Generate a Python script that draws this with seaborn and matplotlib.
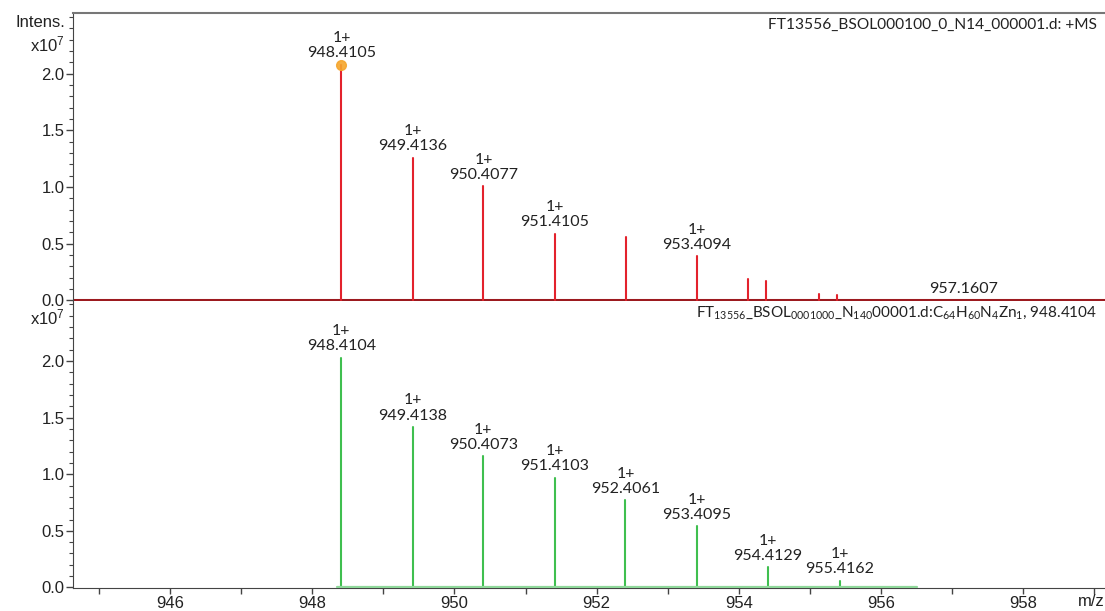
import numpy as np
import pandas as pd
import matplotlib
matplotlib.use("Agg")
import matplotlib.pyplot as plt
from matplotlib.ticker import MultipleLocator
import seaborn as sns

# ---------------- data ----------------
# measured spectrum (top, red), intensities in units of 1e7
meas_mz = [948.4105, 949.4136, 950.4077, 951.4105, 952.41, 953.4094,
           954.13, 954.38, 955.13, 955.38, 957.1607]
meas_int = [2.08, 1.26, 1.01, 0.59, 0.56, 0.39, 0.19, 0.17, 0.06, 0.05, 0.005]
meas_label = ["1+\n948.4105", "1+\n949.4136", "1+\n950.4077", "1+\n951.4105", "",
              "1+\n953.4094", "", "", "", "", "957.1607"]

# simulated isotope pattern (bottom, green)
sim_mz = [948.4104, 949.4138, 950.4073, 951.4103, 952.4061, 953.4095,
          954.4129, 955.4162]
sim_int = [2.03, 1.42, 1.16, 0.97, 0.77, 0.54, 0.18, 0.06]
sim_label = ["1+\n948.4104", "1+\n949.4138", "1+\n950.4073", "1+\n951.4103",
             "1+\n952.4061", "1+\n953.4095", "1+\n954.4129", "1+\n955.4162"]

meas_range = [944.6, 959.2]
sim_range = [948.35, 956.5]

x_ticks = [946, 948, 950, 952, 954, 956, 958]
y_ticks = [0.0, 0.5, 1.0, 1.5, 2.0]

title_top = "FT13556_BSOL000100_0_N14_000001.d: +MS"
title_bottom = (r"FT$_{13556}$_BSOL$_{0001000}$_N$_{140}$00001.d:"
                r"C$_{64}$H$_{60}$N$_{4}$Zn$_{1}$, 948.4104")

# ---------------- styling ----------------
sns.set_style("ticks")
plt.rcParams["font.family"] = ["Liberation Sans", "DejaVu Sans"]
plt.rcParams["mathtext.default"] = "regular"
LABEL_FONT = ["Lato", "DejaVu Sans"]

RED = "#e3222c"
DARKRED = "#9c1a1f"
GREEN = "#3fbf4f"
TXT = "#222222"

fig = plt.figure(figsize=(11.05, 6.11), dpi=100)
ax1 = fig.add_axes([0.066, 0.5074, 0.934, 0.4713])
ax2 = fig.add_axes([0.066, 0.0376, 0.934, 0.4698])


def sticks(mz, inten):
    rows = []
    for i, (m, h) in enumerate(zip(mz, inten)):
        rows.append({"mz": m, "int": 0.0, "peak": i})
        rows.append({"mz": m, "int": h, "peak": i})
    return pd.DataFrame(rows)


# baselines
sns.lineplot(x=meas_range, y=[0, 0], ax=ax1, color=DARKRED, lw=2.2)
sns.lineplot(x=sim_range, y=[0, 0], ax=ax2, color="#8fd89a", lw=1.6, zorder=3)

# peaks
sns.lineplot(data=sticks(meas_mz, meas_int), x="mz", y="int", units="peak",
             estimator=None, sort=False, ax=ax1, color=RED, lw=1.5)
sns.lineplot(data=sticks(sim_mz, sim_int), x="mz", y="int", units="peak",
             estimator=None, sort=False, ax=ax2, color=GREEN, lw=1.5)

# highlighted monoisotopic peak
ax1.plot([meas_mz[0]], [meas_int[0]], "o", color="#f5a52c", ms=7, alpha=0.9,
         zorder=5)

for ax, mz, inten, labs in ((ax1, meas_mz, meas_int, meas_label),
                            (ax2, sim_mz, sim_int, sim_label)):
    for m, h, lab in zip(mz, inten, labs):
        if lab:
            ax.annotate(lab, xy=(m, h), xytext=(0, 3), textcoords="offset points",
                        ha="center", va="bottom", fontsize=11.5, color=TXT,
                        family=LABEL_FONT, linespacing=1.1)

for ax in (ax1, ax2):
    ax.set_xlim(944.635, 959.15)
    ax.set_yticks(y_ticks)
    ax.set_yticklabels([f"{v:.1f}" for v in y_ticks])
    ax.yaxis.set_minor_locator(MultipleLocator(0.1))
    ax.tick_params(axis="y", which="major", length=5, width=1, color="#444444",
                   labelsize=12, labelcolor=TXT, pad=1)
    ax.tick_params(axis="y", which="minor", length=3, width=0.8, color="#444444")
    ax.set_xlabel("")
    ax.set_ylabel("")
    ax.spines["right"].set_visible(False)
    ax.spines["left"].set_color("#444444")

ax1.set_ylim(-0.005, 2.535)
ax2.set_ylim(-0.005, 2.53)

ax1.set_xticks([])
ax1.spines["bottom"].set_visible(False)
ax1.spines["top"].set_color("#777777")
ax1.spines["top"].set_linewidth(1.5)

ax2.spines["top"].set_visible(False)
ax2.spines["bottom"].set_color("#444444")
ax2.set_xticks(x_ticks)
ax2.set_xticklabels([str(v) for v in x_ticks])
ax2.xaxis.set_minor_locator(MultipleLocator(1))
ax2.tick_params(axis="x", which="major", length=4, width=1, color="#444444",
                labelsize=12, labelcolor=TXT, pad=2)
ax2.tick_params(axis="x", which="minor", length=4, width=1, color="#444444")

# texts around the axes
fig.text(0.059, 0.963, "Intens.", ha="right", va="center", fontsize=12, color=TXT)
fig.text(0.059, 0.927, r"x10$^{7}$", ha="right", va="center", fontsize=12, color=TXT)
fig.text(0.059, 0.481, r"x10$^{7}$", ha="right", va="center", fontsize=12, color=TXT)
fig.text(0.9995, 0.015, "m/z", ha="right", va="center", fontsize=12, color=TXT)

fig.text(0.993, 0.959, title_top, ha="right", va="center", fontsize=11.2,
         color=TXT, family=LABEL_FONT)
fig.text(0.993, 0.4877, title_bottom, ha="right", va="center", fontsize=11,
         color=TXT, family=LABEL_FONT)

fig.savefig("out.png", dpi=100)
